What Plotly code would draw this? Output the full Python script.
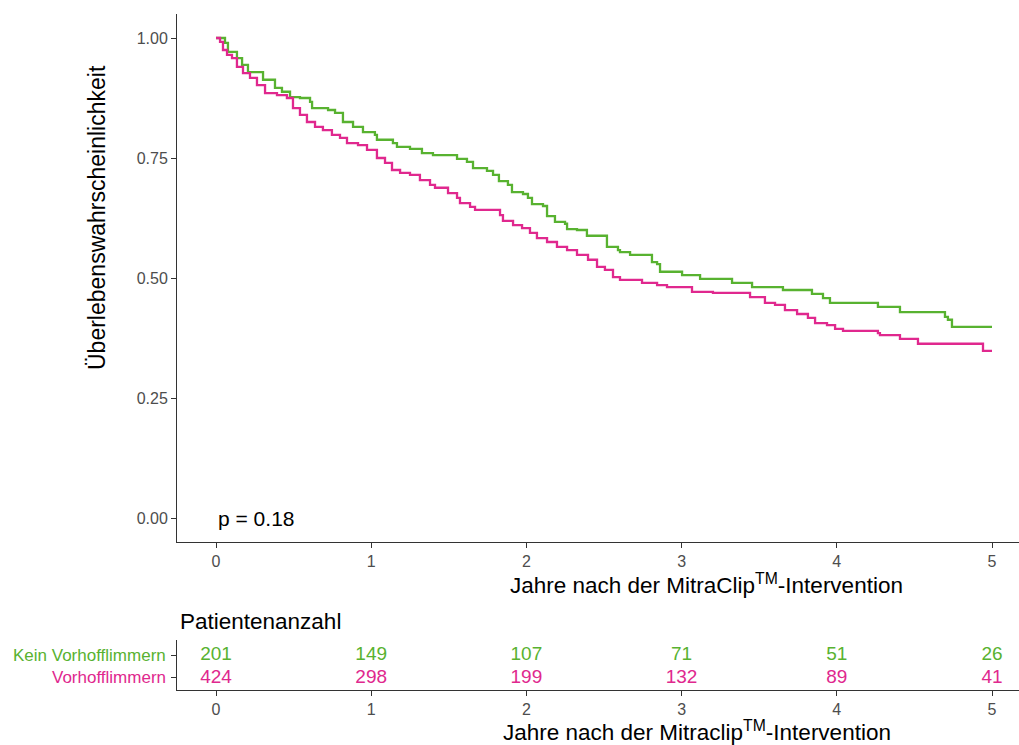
import plotly.graph_objects as go

W, H = 1019, 745

# Kaplan-Meier step data (time in years, survival probability)
green_t = [0, 0.058, 0.077, 0.135, 0.168, 0.206, 0.303, 0.380, 0.425, 0.477, 0.541, 0.606, 0.619,
           0.722, 0.767, 0.818, 0.883, 0.947, 1.024, 1.037, 1.140, 1.166, 1.250, 1.327, 1.398,
           1.553, 1.617, 1.656, 1.746, 1.785, 1.823, 1.881, 1.907, 1.978, 2.010, 2.036, 2.107,
           2.133, 2.184, 2.249, 2.262, 2.326, 2.390, 2.519, 2.590, 2.603, 2.668, 2.809, 2.842,
           2.861, 3.003, 3.119, 3.325, 3.454, 3.653, 3.840, 3.911, 3.956, 4.265, 4.407, 4.697,
           4.716, 4.742, 5.0]
green_s = [1.0, 0.990, 0.971, 0.958, 0.944, 0.929, 0.913, 0.896, 0.888, 0.877, 0.875, 0.867, 0.854,
           0.850, 0.844, 0.825, 0.815, 0.804, 0.798, 0.788, 0.781, 0.773, 0.769, 0.760, 0.756,
           0.748, 0.742, 0.729, 0.723, 0.715, 0.702, 0.694, 0.679, 0.675, 0.667, 0.654, 0.650,
           0.629, 0.617, 0.613, 0.602, 0.600, 0.588, 0.565, 0.558, 0.554, 0.548, 0.533, 0.529,
           0.513, 0.506, 0.498, 0.490, 0.481, 0.475, 0.467, 0.458, 0.448, 0.440, 0.429, 0.419,
           0.413, 0.398, 0.398]

pink_t = [0, 0.026, 0.045, 0.071, 0.103, 0.135, 0.174, 0.219, 0.264, 0.316, 0.393, 0.457, 0.496,
          0.541, 0.586, 0.638, 0.689, 0.747, 0.799, 0.844, 0.915, 0.973, 1.037, 1.089, 1.134,
          1.186, 1.250, 1.314, 1.379, 1.411, 1.495, 1.553, 1.572, 1.637, 1.669, 1.830, 1.849,
          1.914, 1.972, 2.023, 2.068, 2.133, 2.197, 2.262, 2.326, 2.397, 2.455, 2.506, 2.558,
          2.603, 2.745, 2.842, 2.906, 3.067, 3.202, 3.441, 3.537, 3.602, 3.666, 3.744, 3.814,
          3.860, 3.937, 3.989, 4.040, 4.265, 4.278, 4.407, 4.523, 4.942, 5.0]
pink_s = [1.0, 0.992, 0.975, 0.965, 0.958, 0.940, 0.927, 0.917, 0.902, 0.885, 0.881, 0.875, 0.854,
          0.840, 0.825, 0.815, 0.808, 0.798, 0.792, 0.781, 0.777, 0.767, 0.750, 0.740, 0.725,
          0.719, 0.715, 0.704, 0.694, 0.688, 0.677, 0.667, 0.656, 0.648, 0.642, 0.631, 0.619,
          0.610, 0.604, 0.594, 0.583, 0.575, 0.565, 0.558, 0.548, 0.538, 0.523, 0.517, 0.502,
          0.496, 0.490, 0.485, 0.481, 0.471, 0.469, 0.460, 0.448, 0.444, 0.433, 0.425, 0.417,
          0.406, 0.402, 0.394, 0.390, 0.385, 0.381, 0.373, 0.363, 0.348, 0.348]

groups = ["Kein Vorhofflimmern", "Vorhofflimmern"]
risk_times = [0, 1, 2, 3, 4, 5]
risk_kein = [201, 149, 107, 71, 51, 26]
risk_vhf = [424, 298, 199, 132, 89, 41]

y_ticks = [0, 0.25, 0.5, 0.75, 1.0]
y_ticklabels = ["0.00", "0.25", "0.50", "0.75", "1.00"]
p_text = "p = 0.18"

GREEN = "#58B230"
PINK = "#E0288E"
FONT = "Liberation Sans, Arial, sans-serif"
TICKC = "#4D4D4D"

def px(x):
    return x / W

def py(y):
    return 1 - y / H

fig = go.Figure()
fig.add_trace(go.Scatter(x=green_t, y=green_s, mode="lines", line=dict(color=GREEN, width=2.3, shape="hv"),
                         xaxis="x", yaxis="y", showlegend=False))
fig.add_trace(go.Scatter(x=pink_t, y=pink_s, mode="lines", line=dict(color=PINK, width=2.3, shape="hv"),
                         xaxis="x", yaxis="y", showlegend=False))

fig.add_trace(go.Scatter(x=risk_times, y=[2] * len(risk_times), mode="text",
                         text=[str(v) for v in risk_kein], textposition="middle center",
                         textfont=dict(color=GREEN, size=19, family=FONT),
                         xaxis="x2", yaxis="y2", showlegend=False))
fig.add_trace(go.Scatter(x=risk_times, y=[1] * len(risk_times), mode="text",
                         text=[str(v) for v in risk_vhf], textposition="middle center",
                         textfont=dict(color=PINK, size=19, family=FONT),
                         xaxis="x2", yaxis="y2", showlegend=False))

xr = [(177 - 216) / 155.2, (W - 216) / 155.2]
axis_common = dict(showline=True, linecolor="#333333", linewidth=1, ticks="outside", ticklen=5,
                   tickcolor="#333333", showgrid=False, zeroline=False,
                   tickfont=dict(size=16, color=TICKC, family=FONT))

fig.update_layout(
    width=W, height=H,
    margin=dict(l=0, r=0, t=0, b=0),
    paper_bgcolor="white", plot_bgcolor="white",
    font=dict(family=FONT),
    xaxis=dict(domain=[px(177), 1.0], range=xr, tickvals=risk_times, anchor="y", **axis_common),
    yaxis=dict(domain=[py(542), py(14)], range=[-0.05, 1.05], tickvals=y_ticks,
               ticktext=y_ticklabels, anchor="x", **axis_common),
    xaxis2=dict(domain=[px(177), 1.0], range=xr, tickvals=risk_times, anchor="y2", **axis_common),
    yaxis2=dict(domain=[py(690), py(640)], range=[0.478, 2.652], tickvals=[1, 2],
                showticklabels=False, anchor="x2",
                **{k: v for k, v in axis_common.items() if k != "tickfont"}),
    annotations=[
        dict(x=0, y=0, xref="x", yref="y", text=p_text, showarrow=False, xanchor="left",
             yanchor="middle", font=dict(size=21, color="black", family=FONT)),
        dict(x=px(706), y=py(584), xref="paper", yref="paper",
             text="Jahre nach der MitraClip<sup>TM</sup>-Intervention", showarrow=False,
             xanchor="center", yanchor="middle", font=dict(size=22.5, color="black", family=FONT)),
        dict(x=px(97), y=py(218), xref="paper", yref="paper", text="Überlebenswahrscheinlichkeit",
             showarrow=False, textangle=-90, xanchor="center", yanchor="middle",
             font=dict(size=23, color="black", family=FONT)),
        dict(x=px(178), y=py(621), xref="paper", yref="paper", text="Patientenanzahl",
             showarrow=False, xanchor="left", yanchor="middle",
             font=dict(size=22.5, color="black", family=FONT)),
        dict(x=px(697), y=py(731), xref="paper", yref="paper",
             text="Jahre nach der Mitraclip<sup>TM</sup>-Intervention", showarrow=False,
             xanchor="center", yanchor="middle", font=dict(size=22.5, color="black", family=FONT)),
        dict(x=px(168), y=2, xref="paper", yref="y2", text=groups[0], showarrow=False,
             xanchor="right", yanchor="middle", font=dict(size=17, color=GREEN, family=FONT)),
        dict(x=px(168), y=1, xref="paper", yref="y2", text=groups[1], showarrow=False,
             xanchor="right", yanchor="middle", font=dict(size=17, color=PINK, family=FONT)),
    ],
)

fig.write_html("out.html")
